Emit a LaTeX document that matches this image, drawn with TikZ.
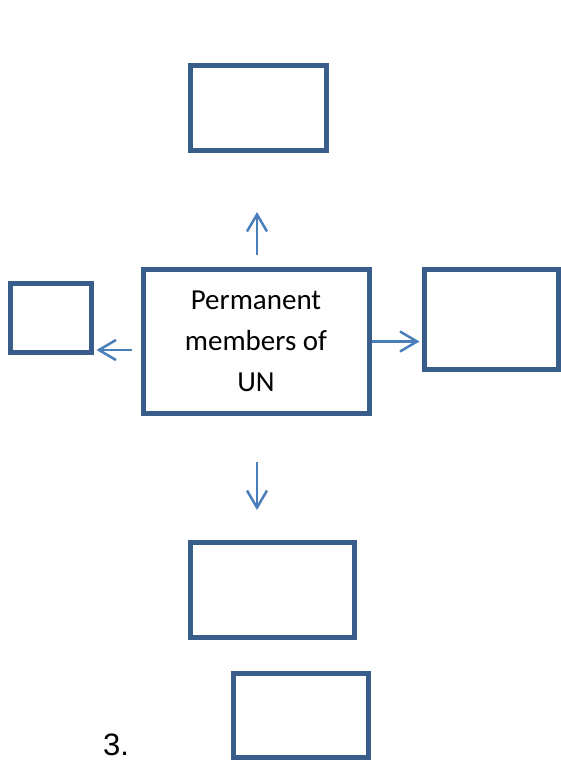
\documentclass[tikz,border=0pt]{standalone}
\usepackage{fontspec}
\setmainfont{Carlito}
\newfontfamily\numfont{Liberation Sans}
\usetikzlibrary{arrows.meta}

\definecolor{boxblue}{RGB}{56,93,138}
\definecolor{arrowblue}{RGB}{74,126,187}

\begin{document}
\begin{tikzpicture}[x=1pt,y=-1pt,
  box/.style={draw=boxblue, line width=5pt, inner sep=0pt},
  link/.style={draw=arrowblue, line width=2.5pt, -{Straight Barb[length=17pt,width=20pt]}}]
\useasboundingbox (0,0) rectangle (561,760);
\node [box, minimum width=226pt, minimum height=144pt, align=center,
  font=\fontsize{29}{41}\selectfont] (UN) at (256,341.5) {Permanent\\members of\\UN};
\node [box, minimum width=136pt, minimum height=85pt] (TOP) at (258.5,108) {};
\node [box, minimum width=81pt, minimum height=69pt] (LEFT) at (51,318) {};
\node [box, minimum width=134pt, minimum height=100pt] (RIGHT) at (491.5,319.5) {};
\node [box, minimum width=164pt, minimum height=95pt] (BOTTOM) at (272.8,590) {};
\node [box, minimum width=135pt, minimum height=84.5pt] (EXTRA) at (301,715.5) {};
\node [anchor=base west, inner sep=0pt, font=\numfont\fontsize{31}{36}\selectfont] (NUM) at (103,755) {3.};
\coordinate (UPTAIL) at (257,255);
\coordinate (UPHEAD) at (257,212);
\coordinate (DOWNTAIL) at (257,462);
\coordinate (DOWNHEAD) at (257,510);
\coordinate (LEFTTAIL) at (132,350);
\draw [link] (UPTAIL) to (UPHEAD);
\draw [link] (DOWNTAIL) to (DOWNHEAD);
\draw [link] (LEFTTAIL) to ([xshift=2.5pt]LEFT.east |- LEFTTAIL);
\draw [link] (UN.east) to ([xshift=-2.5pt]RIGHT.west |- UN.east);
\end{tikzpicture}
\end{document}
